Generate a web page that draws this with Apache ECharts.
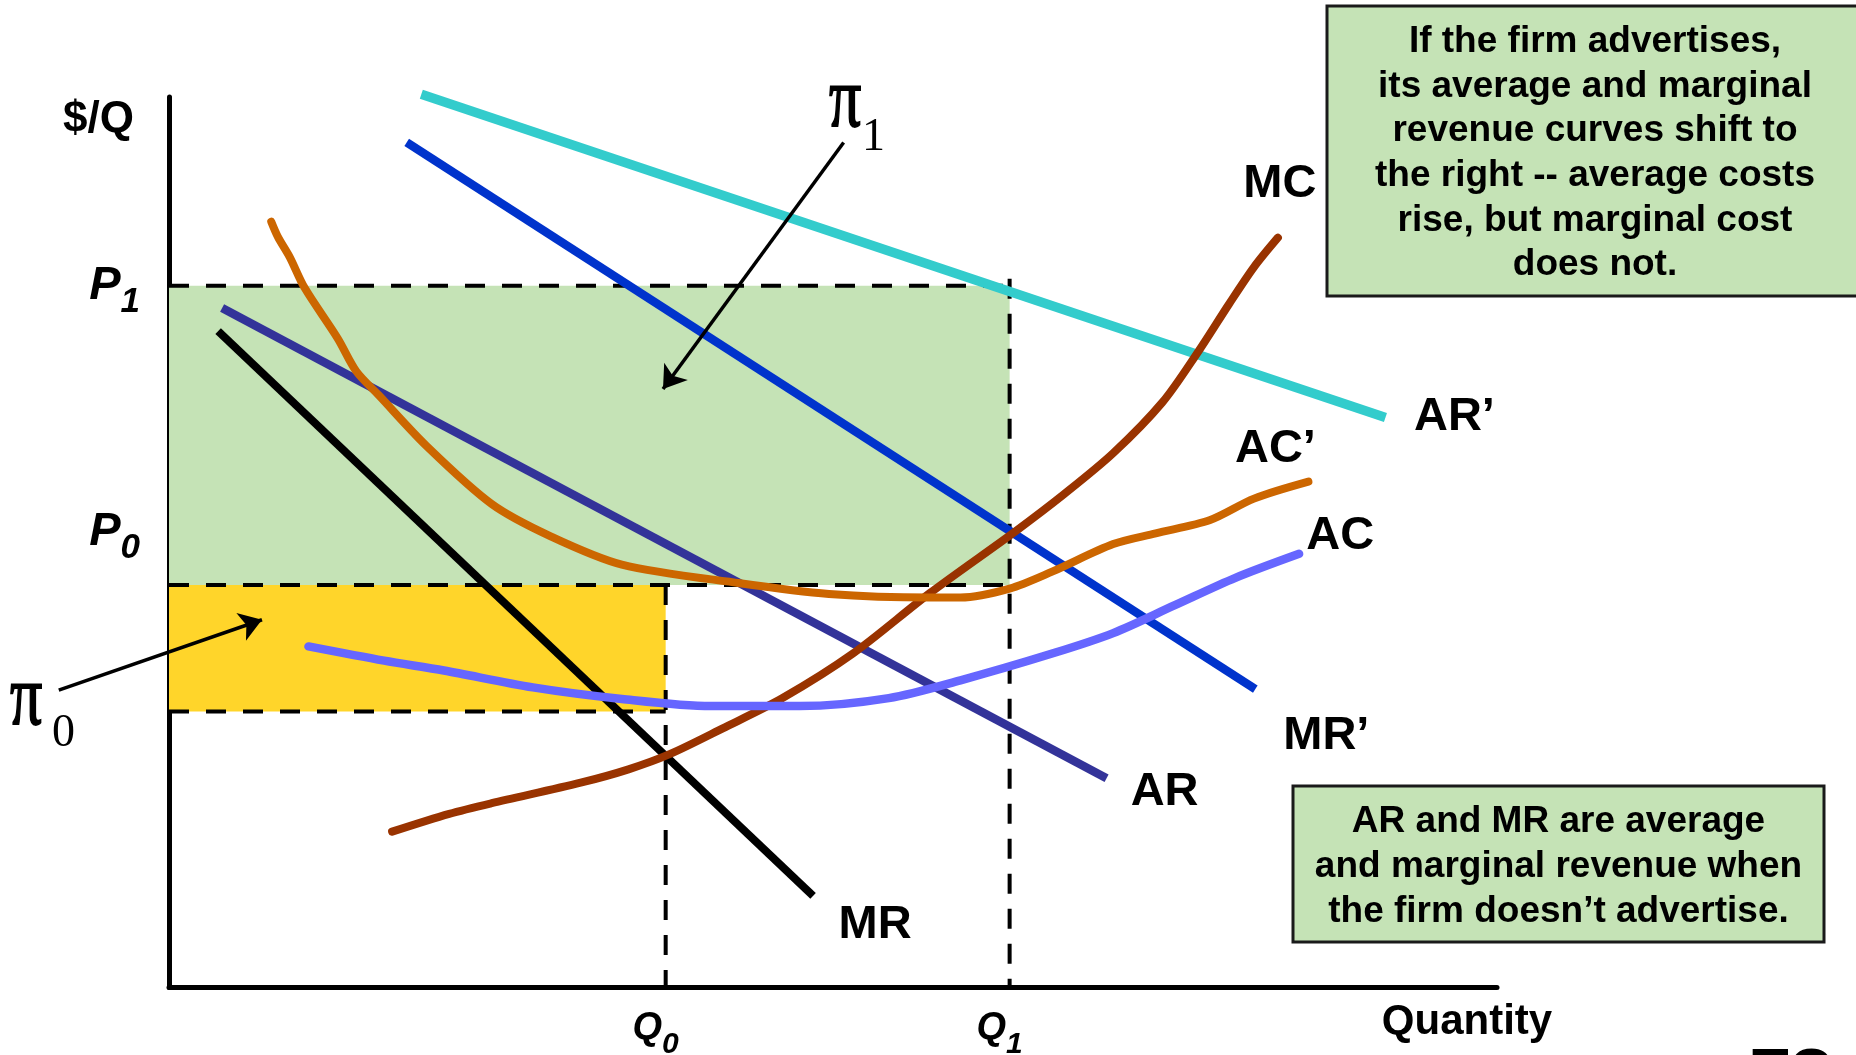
<!DOCTYPE html>
<html>
<head>
<meta charset="utf-8">
<script src="https://cdn.jsdelivr.net/npm/echarts@6/dist/echarts.min.js"></script>
<style>
html,body{margin:0;padding:0;background:#fff;}
#chart{width:1856px;height:1055px;}
</style>
</head>
<body>
<div id="chart"></div>
<script>
// ---------- values (axis units 0..100) ----------
const Q0 = 37.4, Q1 = 63.3;            // quantities
const P1 = 78.8;                        // price with advertising
const P0 = 51.2;                        // price without advertising (label position)
const acPrimeAtQ1 = 45.2;               // bottom of the pi1 box / top of pi0 box
const acAtQ0 = 31.0;                    // bottom of the pi0 box
const q1LineTop = 79.6, q0LineBottom = -0.6;

const priceTickValues = [P0, P1];
const priceTickSubs = ['0', '1'];
const quantityTickValues = [Q0, Q1];
const quantityTickSubs = ['0', '1'];

// curves
const arPrimeX = [19.0, 91.6];
const arPrimeY = [100.3, 64.0];
const mrPrimeX = [17.9, 81.8];
const mrPrimeY = [94.9, 33.5];
const arX = [4.0, 70.6];
const arY = [76.3, 23.5];
const mrX = [3.7, 48.5];
const mrY = [73.7, 10.3];
const mcX = [16.8, 21.1, 24.3, 31.0, 34.6, 37.7, 41.7, 46.2, 51.5, 57.3, 63.8, 67.4, 71.1, 74.8, 77.5, 79.8, 81.7, 83.5];
const mcY = [17.5, 19.5, 20.7, 23.0, 24.5, 26.2, 29.1, 32.5, 37.5, 44.3, 51.3, 55.4, 60.0, 65.7, 71.4, 76.7, 80.9, 84.2];
const acPrimeX = [7.7, 8.2, 9.1, 10.2, 12.7, 14.1, 15.8, 19.4, 24.3, 28.7, 34.1, 43.0, 49.7, 57.3, 59.6, 63.3, 66.5, 71.1, 74.3, 78.4, 81.7, 85.8];
const acPrimeY = [86.0, 84.3, 82.0, 78.6, 72.9, 69.2, 66.5, 60.8, 54.3, 50.7, 47.5, 45.4, 44.2, 43.8, 43.8, 44.8, 46.7, 49.8, 51.0, 52.5, 54.9, 56.8];
const acX = [10.5, 16.2, 20.7, 27.4, 34.1, 40.8, 47.5, 54.2, 59.6, 66.5, 71.1, 75.7, 80.3, 85.1];
const acY = [38.3, 36.7, 35.6, 33.7, 32.4, 31.6, 31.6, 32.5, 34.5, 37.5, 39.8, 42.9, 46.0, 48.7];

// arrows (start -> head)
const arrowPi1X = [50.8, 37.2];
const arrowPi1Y = [94.9, 67.2];
const arrowPi0X = [-8.3, 7.0];
const arrowPi0Y = [33.4, 41.3];

const curveNames = ['AR’', 'MR’', 'AR', 'MR', 'MC', 'AC’', 'AC'];

const box1Lines = ['If the firm advertises,', 'its average and marginal', 'revenue curves shift to', 'the right -- average costs', 'rise, but marginal cost', 'does not.'];
const box2Lines = ['AR and MR are average', 'and marginal revenue when', 'the firm doesn’t advertise.'];

// ---------- build ----------
const zip = (xs, ys) => xs.map((x, i) => [x, ys[i]]);
const SANS = 'Arial, "Liberation Sans", Helvetica, sans-serif';
const SERIF = '"Times New Roman", "Liberation Serif", serif';

const curves = [
  {name: curveNames[0], x: arPrimeX, y: arPrimeY, color: '#33CCCC', width: 9.5, smooth: false, cap: 'butt', off: [69, -1]},
  {name: curveNames[1], x: mrPrimeX, y: mrPrimeY, color: '#0033CC', width: 8.5, smooth: false, cap: 'butt', off: [71, 47]},
  {name: curveNames[2], x: arX, y: arY, color: '#333399', width: 8.5, smooth: false, cap: 'butt', off: [58, 14]},
  {name: curveNames[3], x: mrX, y: mrY, color: '#000000', width: 8, smooth: false, cap: 'butt', off: [62, 29]},
  {name: curveNames[4], x: mcX, y: mcY, color: '#993300', width: 8, smooth: 0.3, cap: 'round', off: [2, -54]},
  {name: curveNames[5], x: acPrimeX, y: acPrimeY, color: '#CC6600', width: 8, smooth: 0.3, cap: 'round', off: [-33, -33]},
  {name: curveNames[6], x: acX, y: acY, color: '#6666FF', width: 8.5, smooth: 0.3, cap: 'round', off: [41, -18]}
];

const dash = {color: '#000', width: 4, type: [20, 17]};
const dashV = {color: '#000', width: 4, type: [20, 15]};

const series = [];
// P1 dashed line + the two profit boxes
series.push({
  type: 'line', z: 2, silent: true, symbol: 'none', clip: false,
  data: [[0, P1], [Q1, P1]], lineStyle: dash,
  markArea: {
    silent: true, z: 1,
    data: [
      [{coord: [0, acPrimeAtQ1], itemStyle: {color: '#C5E3B6', opacity: 1, borderWidth: 0}}, {coord: [Q1, P1]}],
      [{coord: [0, acAtQ0], itemStyle: {color: '#FFD52A', opacity: 1, borderWidth: 0}}, {coord: [Q0, acPrimeAtQ1]}]
    ]
  }
});
series.push({type: 'line', z: 2, silent: true, symbol: 'none', clip: false, data: [[0, acPrimeAtQ1], [Q1, acPrimeAtQ1]], lineStyle: dash});
series.push({type: 'line', z: 2, silent: true, symbol: 'none', clip: false, data: [[0, acAtQ0], [Q0, acAtQ0]], lineStyle: dash});
series.push({type: 'line', z: 2, silent: true, symbol: 'none', clip: false, data: [[Q0, acPrimeAtQ1], [Q0, q0LineBottom]], lineStyle: dashV});
series.push({type: 'line', z: 2, silent: true, symbol: 'none', clip: false, data: [[Q1, q1LineTop], [Q1, 0]], lineStyle: dashV});

curves.forEach(c => {
  series.push({
    type: 'line', name: c.name, z: 3, silent: true, symbol: 'none', showSymbol: false, clip: false,
    smooth: c.smooth, data: zip(c.x, c.y),
    lineStyle: {color: c.color, width: c.width, cap: c.cap, join: 'round'}
  });
});

// curve name labels placed at each curve's last point
series.push({
  type: 'scatter', z: 4, silent: true, symbolSize: 0.1, itemStyle: {color: '#000', opacity: 1},
  data: curves.map(c => ({
    value: [c.x[c.x.length - 1], c.y[c.y.length - 1]],
    label: {show: true, position: 'inside', offset: c.off, formatter: c.name}
  })),
  label: {color: '#000', opacity: 1, fontSize: 47, fontWeight: 'bold', fontFamily: SANS, textBorderWidth: 0}
});

// arrows
series.push({
  type: 'lines', coordinateSystem: 'cartesian2d', z: 5, silent: true, clip: false,
  symbol: ['none', 'arrow'], symbolSize: [1, 22],
  lineStyle: {color: '#000', width: 3.5, opacity: 1, curveness: 0},
  data: [
    {coords: zip(arrowPi1X, arrowPi1Y)},
    {coords: zip(arrowPi0X, arrowPi0Y)}
  ]
});

const chart = echarts.init(document.getElementById('chart'), null, {renderer: 'canvas'});
chart.setOption({
  animation: false,
  backgroundColor: '#ffffff',
  textStyle: {fontFamily: SANS},
  grid: {left: 169, right: 359, top: 97, bottom: 67.5, containLabel: false, outerBoundsMode: 'none'},
  xAxis: {
    type: 'value', min: 0, max: 100,
    name: 'Quantity', nameLocation: 'end', nameGap: -30, nameMoveOverlap: false,
    nameTextStyle: {fontSize: 42, fontWeight: 'bold', color: '#000', fontFamily: SANS, align: 'center', verticalAlign: 'top', lineHeight: 42, padding: [14, 0, 0, 0]},
    axisLine: {show: true, onZero: false, lineStyle: {color: '#000', width: 5}},
    axisTick: {show: false},
    splitLine: {show: false},
    axisLabel: {
      customValues: quantityTickValues,
      margin: 22.5,
      padding: [0, 20, 0, 0],
      formatter: v => '{q|Q}{s|' + quantityTickSubs[quantityTickValues.indexOf(v)] + '}',
      rich: {
        q: {fontSize: 38, fontWeight: 'bold', fontStyle: 'italic', color: '#000', fontFamily: SANS, lineHeight: 38, padding: [0, 0, 12, 0], verticalAlign: 'top'},
        s: {fontSize: 30, fontWeight: 'bold', fontStyle: 'italic', color: '#000', fontFamily: SANS, lineHeight: 30, padding: [20, 0, 0, 0], verticalAlign: 'top'}
      }
    }
  },
  yAxis: {
    type: 'value', min: 0, max: 100,
    name: '$/Q', nameLocation: 'end', nameGap: -23, nameMoveOverlap: false,
    nameTextStyle: {fontSize: 44, fontWeight: 'bold', color: '#000', fontFamily: SANS, align: 'right', verticalAlign: 'middle', padding: [0, 35, 0, 0]},
    axisLine: {show: true, onZero: false, lineStyle: {color: '#000', width: 5}},
    axisTick: {show: false},
    splitLine: {show: false},
    axisLabel: {
      customValues: priceTickValues,
      margin: 29,
      formatter: v => '{p|P}{s|' + priceTickSubs[priceTickValues.indexOf(v)] + '}',
      rich: {
        p: {fontSize: 47, fontWeight: 'bold', fontStyle: 'italic', color: '#000', fontFamily: SANS, lineHeight: 47, padding: [10.5, 0, 10.5, 0], verticalAlign: 'middle'},
        s: {fontSize: 35, fontWeight: 'bold', fontStyle: 'italic', color: '#000', fontFamily: SANS, lineHeight: 35, padding: [33, 0, 0, 0], verticalAlign: 'middle'}
      }
    }
  },
  series: series,
  graphic: [
    {type: 'text', x: 829, y: 103, scaleY: 1.35, z: 10, style: {text: 'π', font: '64px ' + SERIF, fill: '#000', stroke: '#000', lineWidth: 1.3, align: 'left', verticalAlign: 'middle'}},
    {type: 'text', x: 862, y: 137.5, z: 10, style: {text: '1', font: '46px ' + SERIF, fill: '#000', align: 'left', verticalAlign: 'middle'}},
    {type: 'text', x: 10, y: 701, scaleY: 1.35, z: 10, style: {text: 'π', font: '64px ' + SERIF, fill: '#000', stroke: '#000', lineWidth: 1.3, align: 'left', verticalAlign: 'middle'}},
    {type: 'text', x: 52, y: 734, z: 10, style: {text: '0', font: '46px ' + SERIF, fill: '#000', align: 'left', verticalAlign: 'middle'}},
    {type: 'rect', z: 10, shape: {x: 1327, y: 6, width: 545, height: 290}, style: {fill: '#C5E3B6', stroke: '#1a1a1a', lineWidth: 3}},
    {type: 'text', z: 11, x: 1595, y: 153.5, style: {text: box1Lines.join('\n'), font: 'bold 37px ' + SANS, lineHeight: 44.6, fill: '#000', align: 'center', verticalAlign: 'middle'}},
    {type: 'rect', z: 10, shape: {x: 1293, y: 786, width: 531, height: 156}, style: {fill: '#C5E3B6', stroke: '#1a1a1a', lineWidth: 3}},
    {type: 'text', z: 11, x: 1558.5, y: 866.5, style: {text: box2Lines.join('\n'), font: 'bold 37px ' + SANS, lineHeight: 45, fill: '#000', align: 'center', verticalAlign: 'middle'}},
    {type: 'text', z: 11, x: 1752, y: 1043, style: {text: 'TC', font: 'bold 60px ' + SANS, lineHeight: 60, fill: '#000', align: 'left', verticalAlign: 'top'}}
  ]
});
</script>
</body>
</html>
